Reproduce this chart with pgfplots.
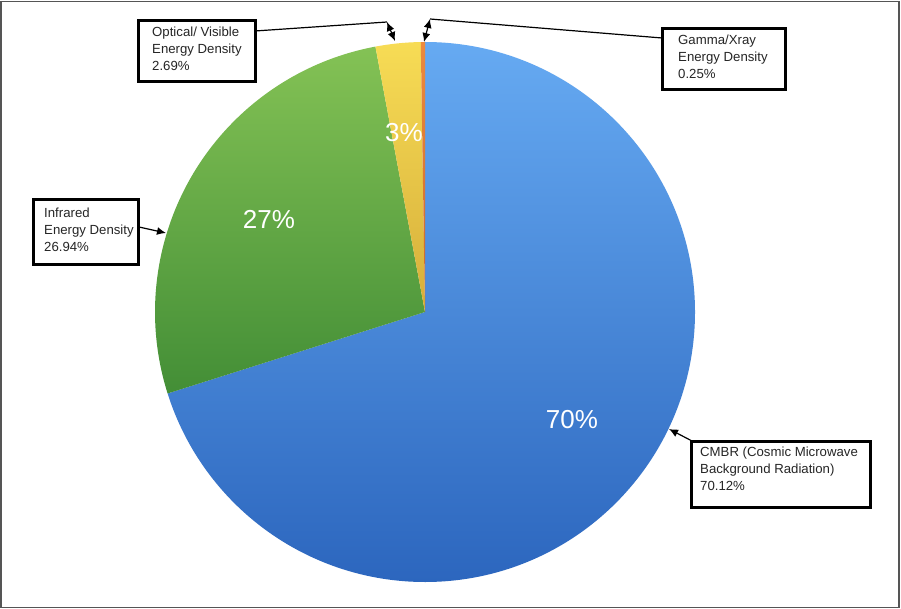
\documentclass[border=0pt]{standalone}
\usepackage{pgfplots}
\pgfplotsset{compat=1.18}
\usepackage{fontspec}
\setmainfont{Liberation Sans}
\usetikzlibrary{arrows.meta}
\definecolor{bluetop}{HTML}{66AAF2}
\definecolor{bluebot}{HTML}{2C66BE}
\definecolor{greentop}{HTML}{84C255}
\definecolor{greenbot}{HTML}{438E36}
\definecolor{yeltop}{HTML}{F7DC55}
\definecolor{yelbot}{HTML}{D6AE3A}
\definecolor{oratop}{HTML}{EC8A3E}
\definecolor{orabot}{HTML}{C8682A}
\definecolor{framegray}{HTML}{555555}
% shares (percent), clockwise from 12 o'clock
\def\vCMBR{70.12}
\def\vIR{26.94}
\def\vOpt{2.69}
\def\vGam{0.25}
\begin{document}
\begin{tikzpicture}
\pgfmathsetmacro{\aA}{90}
\pgfmathsetmacro{\aB}{\aA-3.6*\vCMBR}
\pgfmathsetmacro{\aC}{\aB-3.6*\vIR}
\pgfmathsetmacro{\aD}{\aC-3.6*\vOpt}
\pgfmathsetmacro{\aE}{\aD-3.6*\vGam}
\begin{axis}[name=ax, x=1pt, y=1pt, xmin=0, xmax=901, ymin=0, ymax=609,
  y dir=reverse, scale only axis, hide axis, clip=false]
% frame
\draw[framegray, line width=1.6pt, fill=white] (axis cs:1,1.5) rectangle (axis cs:899.2,607.5);
% slices
\path[top color=bluetop, bottom color=bluebot] (axis cs:425,312) -- ++(\aA:270pt) arc[start angle=\aA, end angle=\aB, radius=270pt] -- cycle;
\path[top color=greentop, bottom color=greenbot] (axis cs:425,312) -- ++(\aB:270pt) arc[start angle=\aB, end angle=\aC, radius=270pt] -- cycle;
\path[top color=yeltop, bottom color=yelbot] (axis cs:425,312) -- ++(\aC:270pt) arc[start angle=\aC, end angle=\aD, radius=270pt] -- cycle;
\path[top color=oratop, bottom color=orabot] (axis cs:425,312) -- ++(\aD:270pt) arc[start angle=\aD, end angle=\aE, radius=270pt] -- cycle;
% percentage labels
\tikzset{pct/.style={white, font=\fontsize{26}{26}\selectfont}}
\node[pct] at (axis cs:572,420) {70\%};
\node[pct] at (axis cs:269,220) {27\%};
\node[pct] at (axis cs:404,133) {3\%};
% callout boxes
\draw[black, line width=3pt] (axis cs:138,21) rectangle (axis cs:255,82);
\draw[black, line width=3pt] (axis cs:662,29) rectangle (axis cs:785,90);
\draw[black, line width=3pt] (axis cs:33,200) rectangle (axis cs:138,265);
\draw[black, line width=3pt] (axis cs:691,441) rectangle (axis cs:870,507);
\tikzset{boxtxt/.style={anchor=north west, align=left, inner sep=0pt, font=\fontsize{13.2}{17}\selectfont, text=black!85}}
\node[boxtxt] at (axis cs:152,27) {Optical/ Visible\\Energy Density\\2.69\%};
\node[boxtxt] at (axis cs:678,35) {Gamma/Xray\\Energy Density\\0.25\%};
\node[boxtxt] at (axis cs:44,208) {Infrared\\Energy Density\\26.94\%};
\node[boxtxt] at (axis cs:700,447) {CMBR (Cosmic Microwave\\Background Radiation)\\70.12\%};
% arrows
\tikzset{arr/.style={line width=1.2pt, black}, tip/.tip={Latex[length=9pt,width=8pt]}}
\draw[arr] (axis cs:255,31) -- (axis cs:387,22);
\draw[arr, tip-tip] (axis cs:387,22) -- (axis cs:395,41);
\draw[arr] (axis cs:662,38) -- (axis cs:430,19);
\draw[arr, tip-tip] (axis cs:430,19) -- (axis cs:424,42);
\draw[arr, -tip] (axis cs:139,227) -- (axis cs:166,233);
\draw[arr, -tip] (axis cs:692,441) -- (axis cs:669,429);
\end{axis}
\pgfresetboundingbox
\useasboundingbox (ax.south west) rectangle (ax.north east);
\end{tikzpicture}
\end{document}
